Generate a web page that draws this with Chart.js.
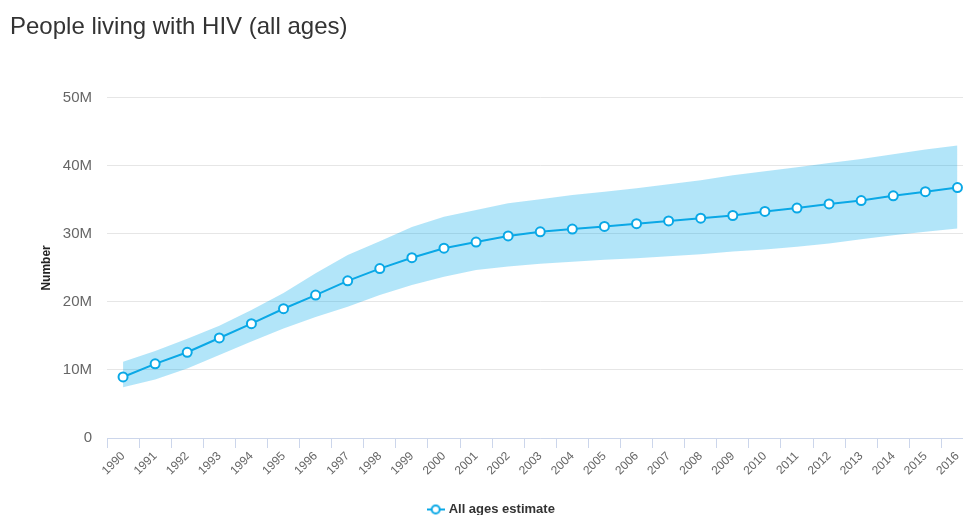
<!DOCTYPE html>
<html>
<head>
<meta charset="utf-8">
<script src="https://cdn.jsdelivr.net/npm/chart.js@4"></script>
<style>
  html, body { margin: 0; padding: 0; background: #fff; overflow: hidden; }
  #wrap { width: 980px; height: 526px; }
</style>
</head>
<body>
<div id="wrap"><canvas id="chart" width="980" height="526"></canvas></div>
<script>
// years on the x axis
const years = ['1990','1991','1992','1993','1994','1995','1996','1997','1998','1999','2000','2001','2002',
  '2003','2004','2005','2006','2007','2008','2009','2010','2011','2012','2013','2014','2015','2016'];

// estimate, in millions
const estimate = [8.97, 10.9, 12.6, 14.7, 16.8, 19.0, 21.0, 23.1, 24.9, 26.5, 27.9, 28.8, 29.7,
  30.3, 30.7, 31.1, 31.5, 31.9, 32.3, 32.7, 33.3, 33.8, 34.4, 34.9, 35.6, 36.2, 36.8];

// upper / lower bound of the range, in millions
const upper = [11.2, 12.8, 14.6, 16.5, 18.8, 21.3, 24.2, 26.9, 28.9, 31.0, 32.5, 33.5, 34.5,
  35.1, 35.7, 36.2, 36.7, 37.3, 37.9, 38.6, 39.2, 39.8, 40.4, 41.0, 41.7, 42.4, 43.0];
const lower = [7.45, 8.6, 10.2, 12.2, 14.2, 16.1, 17.8, 19.3, 21.0, 22.5, 23.7, 24.7, 25.2,
  25.6, 25.9, 26.2, 26.4, 26.7, 27.0, 27.4, 27.7, 28.1, 28.6, 29.2, 29.8, 30.3, 30.8];

const M = v => v * 1e6;
const lineColor = '#0aa8e6';

// legend symbol: short line with an open circle
const sym = document.createElement('canvas');
sym.width = 18; sym.height = 12;
(function () {
    const c = sym.getContext('2d');
    c.strokeStyle = lineColor;
    c.lineWidth = 2;
    c.beginPath(); c.moveTo(0, 6); c.lineTo(18, 6); c.stroke();
    c.fillStyle = '#fff';
    c.beginPath(); c.arc(9, 6, 4, 0, Math.PI * 2); c.fill(); c.stroke();
})();

let ctx = document.getElementById('chart').getContext('2d');
let chart = new Chart(ctx, {
    type: 'line',
    data: {
        labels: years,
        datasets: [
            {
                label: 'upper',
                data: upper.map(M),
                borderWidth: 0,
                borderColor: 'rgba(0,0,0,0)',
                backgroundColor: 'rgba(0,170,235,0.3)',
                pointRadius: 0,
                fill: '+1',
                tension: 0,
                order: 2
            },
            {
                label: 'lower',
                data: lower.map(M),
                borderWidth: 0,
                borderColor: 'rgba(0,0,0,0)',
                pointRadius: 0,
                fill: false,
                tension: 0,
                order: 2
            },
            {
                label: 'All ages estimate',
                data: estimate.map(M),
                borderColor: lineColor,
                backgroundColor: '#fff',
                borderWidth: 2,
                pointRadius: 4.5,
                pointBorderWidth: 2,
                pointBackgroundColor: '#fff',
                pointBorderColor: lineColor,
                fill: false,
                tension: 0,
                order: 1
            }
        ]
    },
    options: {
        responsive: false,
        animation: false,
        layout: { padding: { left: 10, right: 6, top: 0, bottom: 0 } },
        plugins: {
            title: {
                display: true,
                text: 'People living with HIV (all ages)',
                align: 'start',
                color: '#333',
                font: { family: 'Liberation Sans, Arial, sans-serif', size: 24, weight: 'normal', lineHeight: 1.2 },
                padding: { top: 13, bottom: 56 }
            },
            legend: {
                position: 'bottom',
                labels: {
                    generateLabels: c => [{
                        text: 'All ages estimate',
                        pointStyle: sym,
                        fontColor: '#333',
                        datasetIndex: 2,
                        hidden: false,
                        lineWidth: 0
                    }],
                    usePointStyle: true,
                    boxWidth: 18,
                    boxHeight: 12,
                    padding: 2,
                    color: '#333',
                    font: { family: 'Liberation Sans, Arial, sans-serif', size: 13, weight: 'bold' }
                }
            },
            tooltip: { enabled: false }
        },
        scales: {
            x: {
                offset: true,
                afterFit: s => { s.height = 63; },
                grid: {
                    offset: true,
                    drawOnChartArea: false,
                    color: '#ccd6eb',
                    tickLength: 10
                },
                border: { color: '#ccd6eb', width: 1 },
                ticks: {
                    autoSkip: false,
                    maxRotation: 45,
                    minRotation: 45,
                    padding: 1,
                    color: '#666',
                    font: { family: 'Liberation Sans, Arial, sans-serif', size: 12 }
                }
            },
            y: {
                min: 0,
                max: 50e6,
                afterFit: s => { s.width = 97; },
                title: {
                    display: true,
                    text: 'Number',
                    color: '#222',
                    font: { family: 'Liberation Sans, Arial, sans-serif', size: 12, weight: 'bold' },
                    padding: { top: 29, bottom: 0 }
                },
                grid: { color: '#e6e6e6', drawTicks: false },
                border: { display: false },
                ticks: {
                    stepSize: 10e6,
                    padding: 15,
                    color: '#666',
                    font: { family: 'Liberation Sans, Arial, sans-serif', size: 15 },
                    callback: v => v === 0 ? '0' : (v / 1e6) + 'M'
                }
            }
        }
    }
});
</script>
</body>
</html>
